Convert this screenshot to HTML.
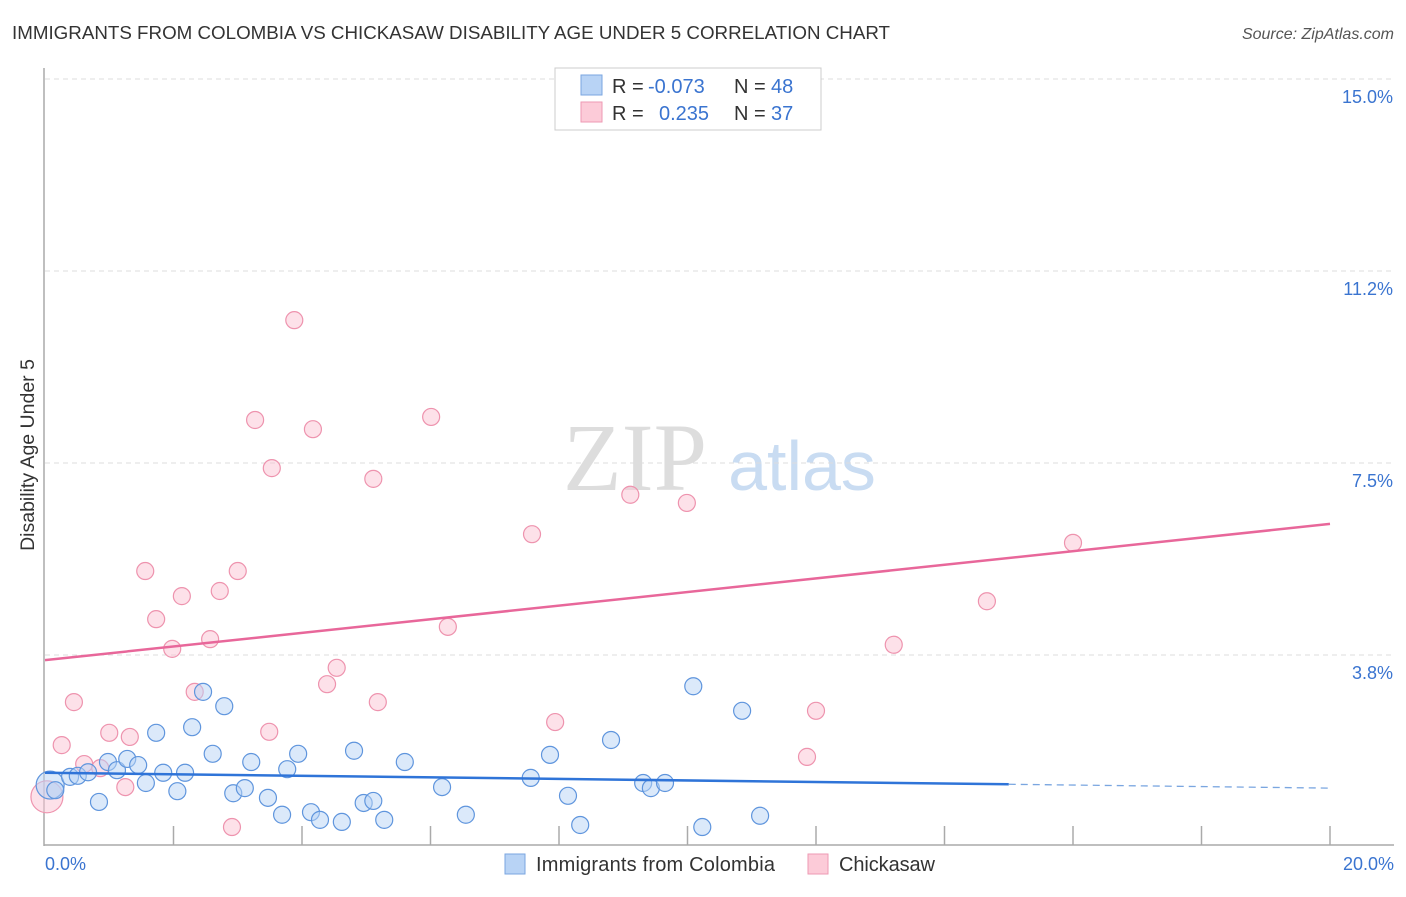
<!DOCTYPE html>
<html><head><meta charset="utf-8"><style>
body{margin:0;background:#fff;font-family:"Liberation Sans",sans-serif}
</style></head><body>
<svg id="chart" width="1406" height="892" xmlns="http://www.w3.org/2000/svg">
<text x="12" y="39" font-size="18.5" fill="#333" textLength="878" lengthAdjust="spacingAndGlyphs">IMMIGRANTS FROM COLOMBIA VS CHICKASAW DISABILITY AGE UNDER 5 CORRELATION CHART</text>
<text x="1394" y="39" font-size="16" fill="#555" font-style="italic" text-anchor="end">Source: ZipAtlas.com</text>
<g>
<text x="635" y="490" font-size="96" font-family="Liberation Serif,serif" fill="#ddd" text-anchor="middle">ZIP</text>
<text x="802" y="490" font-size="70" fill="#c9dcf2" text-anchor="middle">atlas</text>
</g>
<g id="grid"></g>
<g id="axes"></g>
<g id="pts"></g>
<g id="trend"></g>
<text transform="translate(34,455) rotate(-90)" font-size="19.5" fill="#333" text-anchor="middle">Disability Age Under 5</text>
<g>
<rect x="555" y="68" width="266" height="62" fill="#fff" stroke="#ccc"/>
<rect x="581" y="75" width="21" height="20" fill="#b8d3f5" stroke="#7aa6e0"/>
<rect x="581" y="102" width="21" height="20" fill="#fccbd8" stroke="#ee9ab3"/>
<text x="612" y="93" font-size="20" fill="#333">R = <tspan x="648" fill="#3a74d0">-0.073</tspan><tspan x="734">N = </tspan><tspan x="771" fill="#3a74d0">48</tspan></text>
<text x="612" y="120" font-size="20" fill="#333">R = <tspan x="659" fill="#3a74d0">0.235</tspan><tspan x="734">N = </tspan><tspan x="771" fill="#3a74d0">37</tspan></text>
</g>
<g>
<rect x="505" y="854" width="20" height="20" fill="#b8d3f5" stroke="#7aa6e0"/>
<text x="536" y="871" font-size="20" fill="#333" textLength="239">Immigrants from Colombia</text>
<rect x="808" y="854" width="20" height="20" fill="#fccbd8" stroke="#ee9ab3"/>
<text x="839" y="871" font-size="20" fill="#333" textLength="96">Chickasaw</text>
</g>
</svg>
<script>
const blueX=[0.08,0.16,0.39,0.51,0.67,0.84,0.98,1.12,1.28,1.45,1.57,1.73,1.84,2.06,2.18,2.29,2.46,2.61,2.79,2.93,3.11,3.21,3.47,3.69,3.77,3.94,4.14,4.28,4.62,4.81,4.96,5.11,5.28,5.60,6.18,6.55,7.56,7.86,8.14,8.33,8.81,9.31,9.43,9.65,10.09,10.23,10.85,11.13];
const blueY=[1.21,1.11,1.37,1.39,1.46,0.88,1.66,1.50,1.72,1.60,1.25,2.23,1.45,1.09,1.45,2.34,3.03,1.82,2.75,1.05,1.15,1.66,0.96,0.63,1.52,1.82,0.68,0.53,0.49,1.88,0.86,0.90,0.53,1.66,1.17,0.63,1.35,1.80,1.00,0.43,2.09,1.25,1.15,1.25,3.14,0.39,2.66,0.61];
const pinkX=[0.03,0.26,0.45,0.61,0.86,1.00,1.25,1.32,1.56,1.73,1.98,2.13,2.33,2.57,2.72,2.91,3.00,3.27,3.49,3.53,3.88,4.17,4.39,4.54,5.11,5.18,6.01,6.27,7.58,7.94,9.11,9.99,12.0,11.86,13.21,14.66,16.0];
const pinkY=[0.98,1.99,2.83,1.62,1.54,2.23,1.17,2.15,5.39,4.45,3.87,4.90,3.03,4.06,5.00,0.39,5.39,8.34,2.25,7.40,10.29,8.16,3.18,3.50,7.19,2.83,8.40,4.30,6.11,2.44,6.88,6.72,2.66,1.76,3.95,4.80,5.94];
const yTicks=[3.75,7.5,11.25,15];
const yTickLabels=["3.8%","7.5%","11.2%","15.0%"];
const xTickLabels=["0.0%","20.0%"];
const blueTrend=[1.45,1.15];
const pinkTrend=[3.65,6.31];
const NS="http://www.w3.org/2000/svg";
const X=v=>45+v*64.25, Y=v=>847-v*51.2;
function mk(t,a,p){const e=document.createElementNS(NS,t);for(const k in a)e.setAttribute(k,a[k]);p.appendChild(e);return e;}
const grid=document.getElementById('grid'),axes=document.getElementById('axes'),pts=document.getElementById('pts'),tr=document.getElementById('trend');
yTicks.forEach((t,i)=>{
 const l=mk('line',{x1:45,x2:1394,y1:Y(t),y2:Y(t),stroke:'#ddd','stroke-dasharray':'5,4'},grid);
 
 
 const tx=mk('text',{x:1393,y:Y(t)+24,'font-size':18,fill:'#3a74d0','text-anchor':'end'},grid);
 tx.textContent=yTickLabels[i];
 
 
});
const ya=mk('line',{x1:44,x2:44,y1:68,y2:846,stroke:'#aaa','stroke-width':1.5},axes);


const xa=mk('line',{x1:44,x2:1394,y1:845,y2:845,stroke:'#aaa','stroke-width':1.5},axes);


for(let i=1;i<=10;i++){const t=mk('line',{x1:X(i*2),x2:X(i*2),y1:826,y2:845,stroke:'#aaa','stroke-width':1.5},axes);
 
 }
[[0,'start',45],[20,'end',1394]].forEach((d,i)=>{const t=mk('text',{x:d[2],y:870,'font-size':18,fill:'#3a74d0','text-anchor':d[1]},axes);t.textContent=xTickLabels[i];
 
 });
function dots(xs,ys,fill,stroke,name,bigR){xs.forEach((x,i)=>{const c=mk('circle',{cx:X(x),cy:Y(ys[i]),r:i===0?bigR:8.5,fill:fill,'fill-opacity':0.5,stroke:stroke,'stroke-width':1.2},pts);
 
 });}
dots(pinkX,pinkY,'#fbc4d3','#ee93ae','point-chickasaw',16);
dots(blueX,blueY,'#b8d3f5','#5f95dd','point-colombia',14);
const bEnd=15, bAt=v=>blueTrend[0]+(blueTrend[1]-blueTrend[0])*v/20;
const b1=mk('line',{x1:X(0),y1:Y(blueTrend[0]),x2:X(bEnd),y2:Y(bAt(bEnd)),stroke:'#2f74d8','stroke-width':2.5},tr);


const b2=mk('line',{x1:X(bEnd),y1:Y(bAt(bEnd)),x2:X(20),y2:Y(blueTrend[1]),stroke:'#7aa6e0','stroke-width':1.3,'stroke-dasharray':'7,5'},tr);


const p1=mk('line',{x1:X(0),y1:Y(pinkTrend[0]),x2:X(20),y2:Y(pinkTrend[1]),stroke:'#e8679a','stroke-width':2.5},tr);


</script>
</body></html>
